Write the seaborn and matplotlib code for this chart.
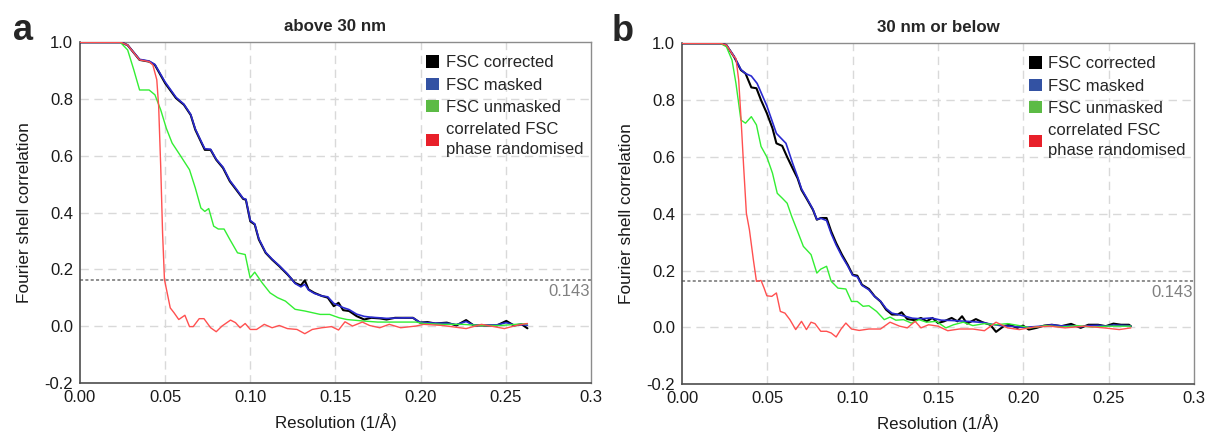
import numpy as np
import pandas as pd
import matplotlib
matplotlib.use("Agg")
import matplotlib.pyplot as plt
from matplotlib.patches import Patch
import seaborn as sns

# ---- panel a : above 30 nm ----
a_corr_x = [0.0, 0.024, 0.028, 0.035, 0.0406, 0.044, 0.05, 0.0564, 0.061, 0.065, 0.0677, 0.071, 0.0733,
            0.0767, 0.080, 0.084, 0.088, 0.0918, 0.0958, 0.0974, 0.100, 0.1026, 0.105, 0.109, 0.1128, 0.117,
            0.1218, 0.1263, 0.1297, 0.132, 0.1342, 0.1376, 0.142, 0.1455, 0.149, 0.1518, 0.1545, 0.158,
            0.1624, 0.1669, 0.171, 0.176, 0.180, 0.185, 0.1906, 0.1955, 0.1996, 0.204, 0.2086, 0.2154,
            0.221, 0.2267, 0.2312, 0.238, 0.2447, 0.2503, 0.2548, 0.2593, 0.2627]
a_corr_y = [1.0, 1.0, 0.99, 0.938, 0.932, 0.92, 0.856, 0.803, 0.78, 0.744, 0.692, 0.65, 0.621,
            0.621, 0.586, 0.557, 0.51, 0.48, 0.448, 0.445, 0.369, 0.358, 0.305, 0.258, 0.234, 0.211,
            0.182, 0.152, 0.143, 0.161, 0.129, 0.117, 0.106, 0.10, 0.07, 0.082, 0.056, 0.053,
            0.035, 0.023, 0.029, 0.027, 0.023, 0.029, 0.029, 0.029, 0.012, 0.014, 0.009, 0.012,
            0.002, 0.021, 0.002, 0.002, 0.002, 0.018, 0.002, 0.006, -0.008]
a_mask_x = [0.0, 0.024, 0.028, 0.035, 0.0406, 0.044, 0.05, 0.0564, 0.061, 0.065, 0.0677, 0.071, 0.0733,
            0.0767, 0.080, 0.084, 0.088, 0.0918, 0.0958, 0.0974, 0.100, 0.1026, 0.105, 0.109, 0.1128, 0.117,
            0.1218, 0.1263, 0.1297, 0.132, 0.1342, 0.1376, 0.142, 0.1455, 0.149, 0.1545, 0.158,
            0.1624, 0.1669, 0.171, 0.176, 0.180, 0.185, 0.1906, 0.1955, 0.1996, 0.204, 0.2086, 0.2154,
            0.221, 0.2267, 0.2312, 0.238, 0.2447, 0.2503, 0.2548, 0.2593, 0.2627]
a_mask_y = [1.0, 1.0, 0.99, 0.94, 0.934, 0.922, 0.86, 0.806, 0.782, 0.746, 0.695, 0.653, 0.625,
            0.623, 0.588, 0.56, 0.513, 0.483, 0.45, 0.447, 0.372, 0.36, 0.308, 0.26, 0.236, 0.213,
            0.184, 0.15, 0.138, 0.147, 0.127, 0.115, 0.106, 0.103, 0.08, 0.065, 0.058,
            0.042, 0.034, 0.031, 0.029, 0.027, 0.028, 0.029, 0.029, 0.013, 0.012, 0.01, 0.01,
            0.005, 0.016, 0.003, 0.003, 0.004, 0.012, 0.004, 0.005, 0.003]
a_unmask_x = [0.0, 0.0237, 0.028, 0.0316, 0.035, 0.0406, 0.044, 0.0474, 0.0507, 0.0541, 0.0586, 0.0643,
              0.0677, 0.071, 0.0733, 0.0756, 0.0785, 0.0812, 0.0846, 0.088, 0.0925, 0.097, 0.0999, 0.1026,
              0.107, 0.1116, 0.116, 0.1206, 0.1263, 0.132, 0.141, 0.1466, 0.1522, 0.1567, 0.1658, 0.1748,
              0.186, 0.1973, 0.2018, 0.213, 0.2244, 0.2357, 0.247, 0.256, 0.2627]
a_unmask_y = [1.0, 1.0, 0.973, 0.903, 0.832, 0.832, 0.815, 0.762, 0.697, 0.645, 0.604, 0.551,
              0.487, 0.416, 0.404, 0.414, 0.352, 0.342, 0.342, 0.305, 0.258, 0.252, 0.17, 0.19,
              0.152, 0.117, 0.10, 0.088, 0.059, 0.053, 0.041, 0.041, 0.029, 0.023, 0.018, 0.014,
              0.014, 0.014, 0.009, 0.006, 0.006, 0.002, 0.002, 0.006, 0.008]
a_rand_x = [0.0, 0.024, 0.028, 0.035, 0.0406, 0.0428, 0.0451, 0.0462, 0.0474, 0.0485, 0.0496, 0.0512,
            0.053, 0.0552, 0.058, 0.0616, 0.0643, 0.0665, 0.070, 0.0728, 0.0767, 0.080, 0.0834, 0.0884,
            0.0913, 0.094, 0.097, 0.100, 0.1037, 0.1082, 0.1128, 0.117, 0.1218, 0.1274, 0.132, 0.1364,
            0.142, 0.1477, 0.1518, 0.1556, 0.160, 0.1658, 0.170, 0.176, 0.1816, 0.1883, 0.1973, 0.2018,
            0.213, 0.2267, 0.2357, 0.2492, 0.256, 0.2627]
a_rand_y = [1.0, 1.0, 0.99, 0.938, 0.932, 0.92, 0.868, 0.774, 0.563, 0.328, 0.164, 0.117,
            0.064, 0.047, 0.023, 0.038, -0.002, -0.002, 0.026, 0.026, -0.006, -0.02, 0.0, 0.021,
            0.012, -0.006, 0.009, -0.012, -0.012, 0.006, -0.006, 0.002, -0.009, -0.012, -0.027, -0.012,
            -0.006, -0.002, -0.014, 0.015, 0.0, 0.014, 0.002, -0.006, 0.006, -0.006, 0.0, 0.006,
            0.002, -0.009, 0.006, -0.009, 0.002, 0.009]

# ---- panel b : 30 nm or below ----
b_corr_x = [0.0, 0.0226, 0.026, 0.0305, 0.0345, 0.0372, 0.0406, 0.0436, 0.0463, 0.0497, 0.053, 0.0553,
            0.0587, 0.0616, 0.0648, 0.0677, 0.070, 0.0734, 0.0767, 0.079, 0.0813, 0.0847, 0.0874, 0.0903,
            0.0937, 0.0971, 0.100, 0.1027, 0.1054, 0.1095, 0.1129, 0.1163, 0.1196, 0.123, 0.1264, 0.1287,
            0.132, 0.1366, 0.140, 0.1433, 0.1467, 0.150, 0.1535, 0.158, 0.1614, 0.1641, 0.167, 0.1722,
            0.176, 0.1806, 0.184, 0.1885, 0.1919, 0.1964, 0.1998, 0.2032, 0.2077, 0.2122, 0.2167, 0.2223,
            0.228, 0.2336, 0.2381, 0.2438, 0.2483, 0.2528, 0.2573, 0.2619, 0.263]
b_corr_y = [1.0, 1.0, 0.994, 0.953, 0.906, 0.894, 0.845, 0.842, 0.80, 0.754, 0.701, 0.648,
            0.639, 0.60, 0.56, 0.525, 0.484, 0.449, 0.414, 0.379, 0.385, 0.385, 0.338, 0.297,
            0.256, 0.22, 0.185, 0.182, 0.15, 0.135, 0.109, 0.091, 0.062, 0.045, 0.045, 0.053,
            0.029, 0.025, 0.033, 0.021, 0.033, 0.015, 0.021, 0.033, 0.021, 0.039, 0.013, 0.029,
            0.018, 0.009, -0.016, 0.004, 0.009, -0.002, 0.006, -0.008, -0.002, 0.006, 0.009, 0.004,
            0.012, -0.002, 0.009, 0.009, 0.004, 0.013, 0.009, 0.009, 0.004]
b_mask_x = [0.0, 0.0226, 0.026, 0.0305, 0.0345, 0.0372, 0.0406, 0.044, 0.0497, 0.0553, 0.0609, 0.0648,
            0.0677, 0.070, 0.0734, 0.0767, 0.079, 0.0813, 0.0847, 0.0874, 0.0903, 0.0937, 0.0971, 0.100,
            0.1027, 0.1054, 0.1095, 0.1129, 0.1163, 0.1196, 0.123, 0.1287, 0.135, 0.140, 0.146, 0.152,
            0.158, 0.164, 0.170, 0.176, 0.182, 0.188, 0.194, 0.200, 0.206, 0.2122, 0.2167, 0.2223,
            0.228, 0.2336, 0.2381, 0.2438, 0.2483, 0.2528, 0.2573, 0.2619, 0.263]
b_mask_y = [1.0, 1.0, 0.994, 0.955, 0.908, 0.894, 0.885, 0.859, 0.78, 0.683, 0.648, 0.578,
            0.53, 0.488, 0.452, 0.416, 0.38, 0.384, 0.376, 0.33, 0.29, 0.25, 0.216, 0.183,
            0.178, 0.148, 0.132, 0.108, 0.092, 0.066, 0.05, 0.042, 0.032, 0.03, 0.033, 0.025,
            0.024, 0.022, 0.02, 0.017, 0.01, 0.005, 0.003, 0.0, 0.002, 0.005, 0.009, 0.005,
            0.006, 0.002, 0.006, 0.007, 0.004, 0.008, 0.007, 0.006, 0.004]
b_unmask_x = [0.0, 0.0226, 0.026, 0.0293, 0.0316, 0.0345, 0.0372, 0.0406, 0.0436, 0.0463, 0.0497, 0.053,
              0.0558, 0.0587, 0.0616, 0.0643, 0.0677, 0.0711, 0.0756, 0.079, 0.0813, 0.0847, 0.0874,
              0.0914, 0.096, 0.0993, 0.1027, 0.1061, 0.1095, 0.114, 0.1185, 0.1219, 0.1253, 0.1298,
              0.1343, 0.1388, 0.1433, 0.149, 0.1546, 0.1591, 0.1648, 0.1704, 0.1772, 0.184, 0.1908,
              0.1976, 0.2043, 0.2133, 0.2223, 0.2314, 0.2404, 0.2495, 0.263]
b_unmask_y = [1.0, 1.0, 0.988, 0.941, 0.859, 0.73, 0.719, 0.742, 0.713, 0.637, 0.60, 0.543,
              0.472, 0.455, 0.437, 0.39, 0.338, 0.285, 0.256, 0.191, 0.205, 0.215, 0.162,
              0.138, 0.135, 0.091, 0.091, 0.074, 0.076, 0.056, 0.027, 0.036, 0.025, 0.027,
              0.015, 0.027, 0.018, 0.021, -0.002, 0.009, 0.018, 0.006, 0.013, 0.009, 0.013,
              0.006, -0.002, 0.006, 0.001, 0.006, 0.001, 0.004, 0.004]
b_rand_x = [0.0, 0.0226, 0.026, 0.0305, 0.0316, 0.0332, 0.0345, 0.0361, 0.0377, 0.0395, 0.0418, 0.0436,
            0.0463, 0.0481, 0.0497, 0.0526, 0.0553, 0.0576, 0.0603, 0.0632, 0.0666, 0.070, 0.0729,
            0.0756, 0.0779, 0.0813, 0.0847, 0.0874, 0.0903, 0.0932, 0.096, 0.0993, 0.1038, 0.1095,
            0.1163, 0.1219, 0.1275, 0.132, 0.1366, 0.140, 0.1445, 0.150, 0.1557, 0.1625, 0.1704,
            0.1772, 0.184, 0.1908, 0.1976, 0.2066, 0.2156, 0.2246, 0.2359, 0.2472, 0.2562, 0.263]
b_rand_y = [1.0, 1.0, 0.994, 0.953, 0.947, 0.871, 0.742, 0.566, 0.402, 0.343, 0.238, 0.162,
            0.165, 0.138, 0.111, 0.109, 0.121, 0.056, 0.05, 0.027, -0.008, 0.021, -0.008,
            0.018, 0.013, -0.014, -0.014, -0.02, -0.034, -0.006, 0.015, -0.006, -0.011, -0.006,
            -0.006, 0.018, 0.004, -0.002, 0.021, -0.002, 0.009, 0.004, -0.012, -0.006, -0.006,
            -0.012, 0.018, -0.002, -0.008, 0.001, 0.004, -0.002, 0.004, -0.002, -0.008, -0.002]

series_names = ["FSC corrected", "FSC masked", "FSC unmasked", "correlated FSC\nphase randomised"]
line_colors = ["#000000", "#2a2ad0", "#33ee33", "#ff5050"]
legend_colors = ["#000000", "#3352a3", "#5cbb45", "#e8202a"]
line_widths = [1.5, 1.2, 1.0, 1.0]
threshold_y = 0.162

panels = [
    ("a", "above 30 nm", [(a_corr_x, a_corr_y), (a_mask_x, a_mask_y),
                          (a_unmask_x, a_unmask_y), (a_rand_x, a_rand_y)]),
    ("b", "30 nm or below", [(b_corr_x, b_corr_y), (b_mask_x, b_mask_y),
                             (b_unmask_x, b_unmask_y), (b_rand_x, b_rand_y)]),
]

sns.set_style("white")
plt.rcParams["font.family"] = ["Liberation Sans", "DejaVu Sans"]

fig = plt.figure(figsize=(12.08, 4.34), dpi=100)
axes_pos = [[0.0662, 0.118, 0.423, 0.7845], [0.5646, 0.115, 0.4238, 0.785]]
letter_x = [-0.131, -0.137]
draw_order = [1, 0, 2, 3]

for (letter, title, data), pos, lx in zip(panels, axes_pos, letter_x):
    ax = fig.add_axes(pos)
    for i in draw_order:
        df = pd.DataFrame({"x": data[i][0], "y": data[i][1]})
        sns.lineplot(data=df, x="x", y="y", ax=ax, color=line_colors[i], lw=line_widths[i],
                     estimator=None, sort=False, zorder=3 + i)
    ax.axhline(threshold_y, color="#707070", lw=1.1, ls=(0, (2, 1.5)), zorder=2)
    ax.text(0.2995, 0.123, "0.143", ha="right", va="center", fontsize=12, color="#808080")

    ax.set_xlim(0, 0.3)
    ax.set_ylim(-0.2, 1.0)
    ax.set_xticks([0.0, 0.05, 0.10, 0.15, 0.20, 0.25, 0.3])
    ax.set_xticklabels(["0.00", "0.05", "0.10", "0.15", "0.20", "0.25", "0.3"])
    ax.set_yticks([-0.2, 0.0, 0.2, 0.4, 0.6, 0.8, 1.0])
    ax.set_yticklabels(["-0.2", "0.0", "0.2", "0.4", "0.6", "0.8", "1.0"])
    ax.tick_params(axis="x", length=0, labelsize=12, pad=5, colors="#1a1a1a")
    ax.tick_params(axis="y", length=0, labelsize=12, pad=5, colors="#1a1a1a")
    for v in [0.05, 0.10, 0.15, 0.20, 0.25]:
        ax.axvline(v, color="#d9d9d9", lw=1.0, ls=(0, (6, 4)), zorder=1)
    for v in [0.0, 0.2, 0.4, 0.6, 0.8]:
        ax.axhline(v, color="#d9d9d9", lw=1.0, ls=(0, (6, 4)), zorder=1)
    for side in ["left", "bottom"]:
        ax.spines[side].set_color("#4d4d4d")
        ax.spines[side].set_linewidth(1.2)
    for side in ["top", "right"]:
        ax.spines[side].set_color("#8c8c8c")
        ax.spines[side].set_linewidth(1.0)

    ax.set_xlabel("Resolution (1/Å)", fontsize=12.2, color="#1a1a1a", labelpad=6)
    ax.set_ylabel("Fourier shell correlation", fontsize=12.4, color="#1a1a1a", labelpad=9)
    ax.set_title(title, fontsize=12.2, fontweight="bold", pad=8)
    ax.text(lx, 1.036, letter, transform=ax.transAxes, fontsize=26, fontweight="bold",
            ha="left", va="center")

    handles = [Patch(facecolor=c, edgecolor="none") for c in legend_colors]
    leg = ax.legend(handles, series_names, loc="upper left", bbox_to_anchor=(0.677, 0.962),
                    frameon=False, fontsize=12, handlelength=0.78, handleheight=0.75,
                    handletextpad=0.4, labelspacing=0.44, borderaxespad=0, borderpad=0)
    for t in leg.get_texts():
        t.set_linespacing(1.4)

fig.savefig("out.png", dpi=100)
